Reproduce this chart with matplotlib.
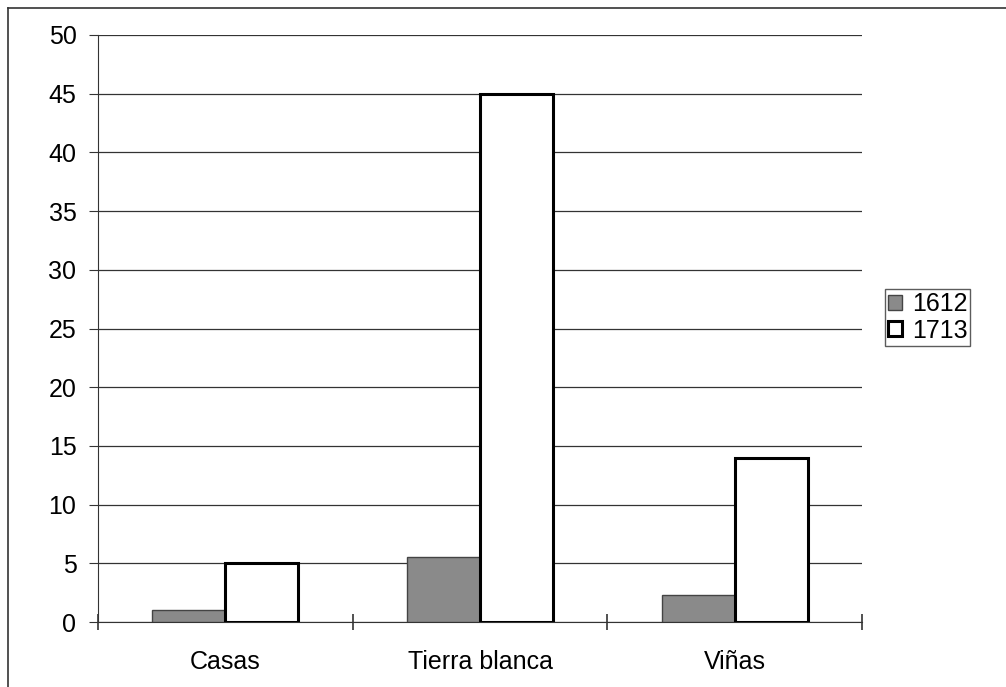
import matplotlib
matplotlib.use("Agg")
import matplotlib.pyplot as plt
import numpy as np
from matplotlib.lines import Line2D

categories = ["Casas", "Tierra blanca", "Viñas"]
series_names = ["1612", "1713"]
values_1612 = [1.0, 5.5, 2.3]
values_1713 = [5.0, 45.0, 14.0]
yticks = [0, 5, 10, 15, 20, 25, 30, 35, 40, 45, 50]
ytick_labels = ["0", "5", "10", "15", "20", "25", "30", "35", "40", "45", "50"]

plt.rcParams['font.family'] = ['Liberation Sans', 'DejaVu Sans']

fig = plt.figure(figsize=(10.06, 6.87), dpi=100)
ax = fig.add_axes([98/1006, 1-622/687, (862-98)/1006, (622-35)/687])

x = np.arange(len(categories))
w = 0.287
ax.bar(x - w/2, values_1612, width=w, color='#8a8a8a', edgecolor='#444444', linewidth=1.0, zorder=3, label=series_names[0])
ax.bar(x + w/2, values_1713, width=w, color='white', edgecolor='black', linewidth=2.2, zorder=3, label=series_names[1])

ax.set_xlim(-0.5, 2.5)
ax.set_ylim(0, 50)
ax.set_yticks(yticks)
ax.set_yticklabels(ytick_labels, fontsize=18)
ax.set_xticks(x)
ax.set_xticklabels(categories, fontsize=18)
ax.tick_params(axis='x', length=0, pad=20)
ax.set_xticks([-0.5, 0.5, 1.5, 2.5], minor=True)
ax.tick_params(axis='x', which='minor', length=12, direction='inout', width=1.2, color='#333333')
ax.tick_params(axis='y', length=6.5, direction='out', color='#333333', pad=9)
ax.grid(axis='y', color='#333333', linewidth=0.9, zorder=0)
for s in ['top', 'right']:
    ax.spines[s].set_visible(False)
ax.spines['left'].set_color('#333333')
ax.spines['bottom'].set_color('#333333')

leg = ax.legend(loc='upper left', bbox_to_anchor=((885-98)/(862-98), (622-289)/(622-35)), fontsize=18, frameon=True,
                fancybox=False, edgecolor='#333333', handlelength=0.55, handleheight=0.55,
                handletextpad=0.4, borderpad=0.12, labelspacing=0.1, borderaxespad=0)
leg.get_frame().set_linewidth(1.0)

fig.add_artist(Line2D([8/1006, 8/1006], [1-8/687, 0], color='#333333', linewidth=1.2))
fig.add_artist(Line2D([8/1006, 1], [1-8/687, 1-8/687], color='#333333', linewidth=1.2))

fig.savefig("out.png", dpi=100)
